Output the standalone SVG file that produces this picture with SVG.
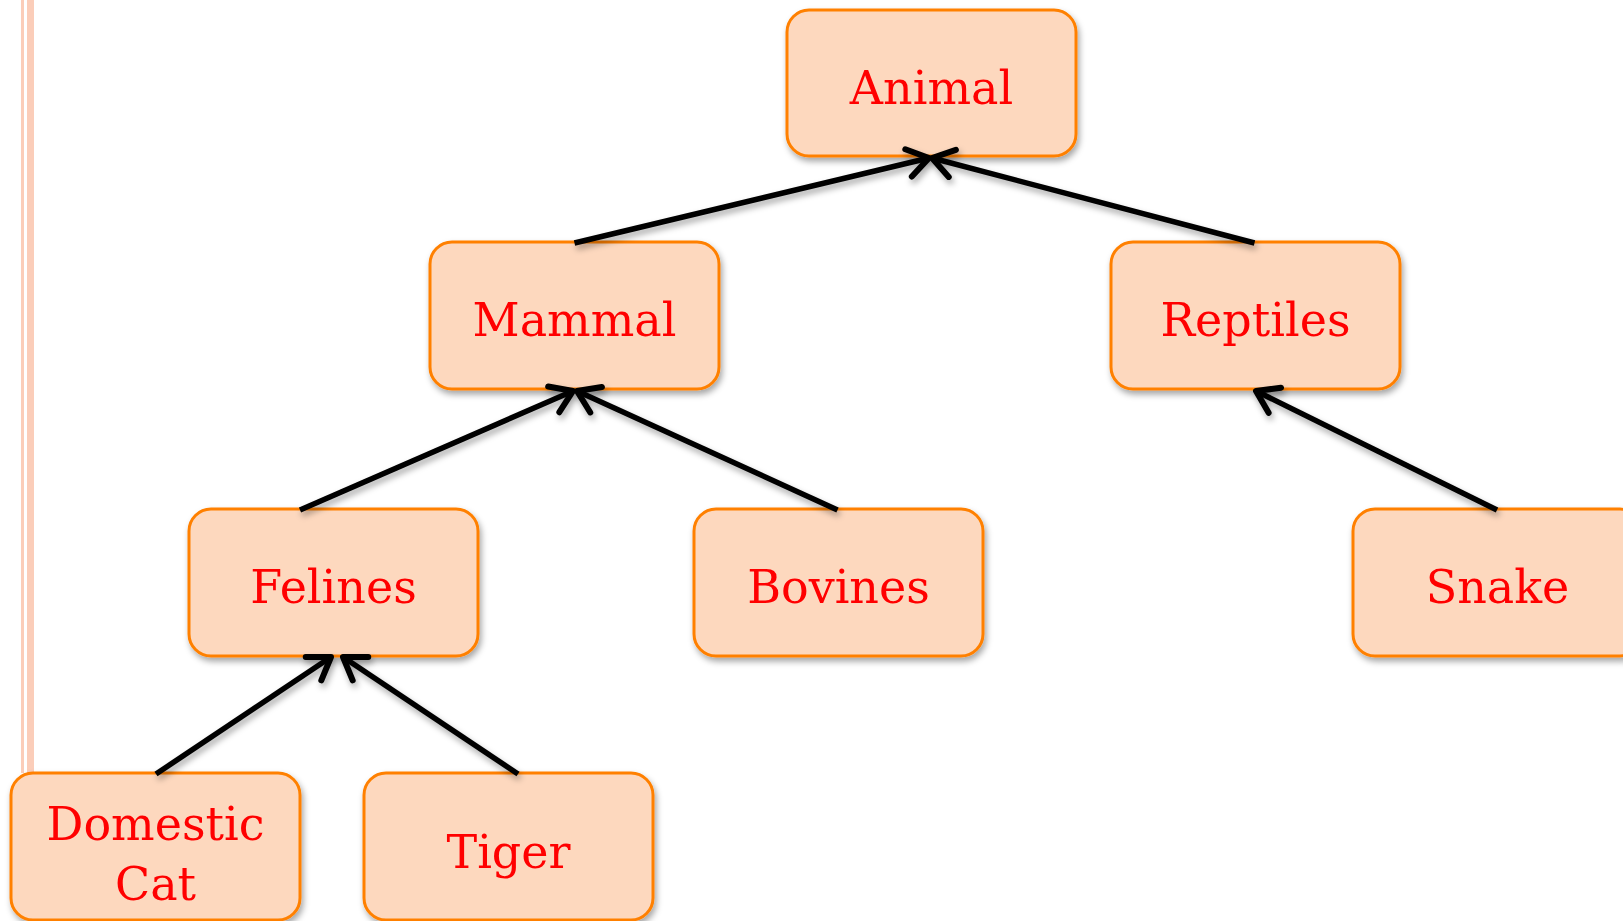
<svg xmlns="http://www.w3.org/2000/svg" width="1623" height="921" viewBox="0 0 1623 921">
  <defs>
    <filter id="shadow" x="-10%" y="-10%" width="125%" height="135%">
      <feDropShadow dx="2" dy="4" stdDeviation="3" flood-color="#000" flood-opacity="0.35"/>
    </filter>
    <marker id="arrow" markerUnits="userSpaceOnUse" orient="auto" refX="0" refY="0"
            markerWidth="44" markerHeight="44" viewBox="-32 -22 44 44" overflow="visible">
      <path d="M -21,-14 L 0,0 L -21,14" fill="none" stroke="#000" stroke-width="6"
            stroke-linecap="round" stroke-linejoin="round"/>
    </marker>
    <style>
      .box { fill: #FDD8BE; stroke: #FF8000; stroke-width: 3; }
      .label { font-family: "DejaVu Serif", "Liberation Serif", serif; font-size: 46px;
               fill: #FF0000; text-anchor: middle; }
      .edge { fill: none; stroke: #000; stroke-width: 5.5; marker-end: url(#arrow); }
      .stripe { fill: #FBCDB9; }
    </style>
  </defs>

  <rect width="1623" height="921" fill="#FFFFFF"/>

  <!-- page margin rule -->
  <g id="margin">
    <rect class="stripe" x="21" y="0" width="3" height="773"/>
    <rect class="stripe" x="27" y="0" width="7" height="773"/>
  </g>

  <!-- nodes -->
  <g id="node-animal" filter="url(#shadow)">
    <rect class="box" x="787" y="10" width="289" height="146" rx="22"/>
    <text class="label" x="931.5" y="104">Animal</text>
  </g>
  <g id="node-mammal" filter="url(#shadow)">
    <rect class="box" x="430" y="242" width="289" height="147" rx="22"/>
    <text class="label" x="574.5" y="336">Mammal</text>
  </g>
  <g id="node-reptiles" filter="url(#shadow)">
    <rect class="box" x="1111" y="242" width="289" height="147" rx="22"/>
    <text class="label" x="1255.5" y="336">Reptiles</text>
  </g>
  <g id="node-felines" filter="url(#shadow)">
    <rect class="box" x="189" y="509" width="289" height="147" rx="22"/>
    <text class="label" x="333.5" y="603">Felines</text>
  </g>
  <g id="node-bovines" filter="url(#shadow)">
    <rect class="box" x="694" y="509" width="289" height="147" rx="22"/>
    <text class="label" x="838.5" y="603">Bovines</text>
  </g>
  <g id="node-snake" filter="url(#shadow)">
    <rect class="box" x="1353" y="509" width="289" height="147" rx="22"/>
    <text class="label" x="1497.5" y="603">Snake</text>
  </g>
  <g id="node-domestic-cat" filter="url(#shadow)">
    <rect class="box" x="11" y="773" width="289" height="147" rx="22"/>
    <text class="label" x="155.5" y="840">Domestic</text>
    <text class="label" x="155.5" y="900">Cat</text>
  </g>
  <g id="node-tiger" filter="url(#shadow)">
    <rect class="box" x="364" y="773" width="289" height="147" rx="22"/>
    <text class="label" x="508.5" y="868">Tiger</text>
  </g>

  <!-- connectors: child top edge to parent bottom edge -->
  <g id="connectors" filter="url(#shadow)">
    <line class="edge" x1="574.5" y1="243" x2="929" y2="158"/>
    <line class="edge" x1="1254.5" y1="243" x2="932" y2="158"/>
    <line class="edge" x1="300" y1="510" x2="573" y2="391"/>
    <line class="edge" x1="837.5" y1="510" x2="577" y2="391"/>
    <line class="edge" x1="1497" y1="510" x2="1256" y2="391"/>
    <line class="edge" x1="156" y1="774" x2="331" y2="657"/>
    <line class="edge" x1="518" y1="774" x2="343" y2="657"/>
  </g>
</svg>
